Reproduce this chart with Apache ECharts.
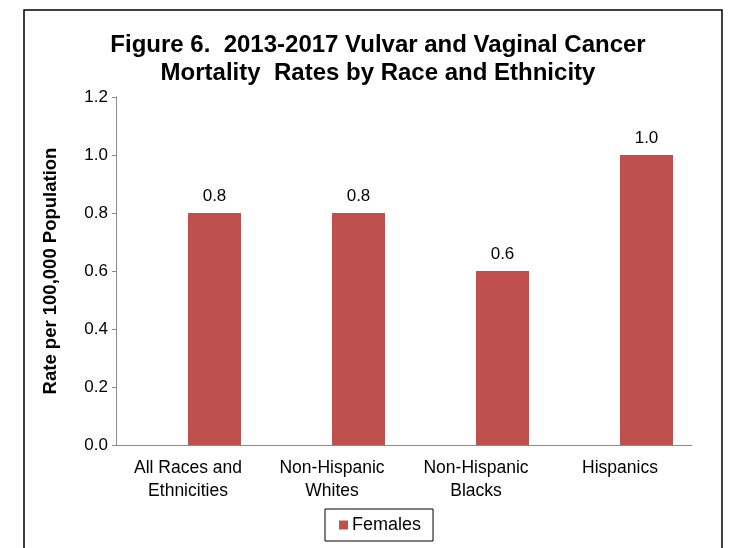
<!DOCTYPE html>
<html>
<head>
<meta charset="utf-8">
<script src="https://cdn.jsdelivr.net/npm/echarts@6/dist/echarts.min.js"></script>
<style>
  html, body { margin: 0; padding: 0; background: #fff; }
  #chart { width: 736px; height: 548px; }
</style>
</head>
<body>
<div id="chart"></div>
<script>
// Mortality rate per 100,000 women, 2013-2017
const categories = ['All Races and\nEthnicities', 'Non-Hispanic\nWhites', 'Non-Hispanic\nBlacks', 'Hispanics'];
const females = [0.8, 0.8, 0.6, 1.0];
// empty companion series keeps the Excel-style two-slot layout (bar sits right of centre)
const placeholder = [null, null, null, null];
const yTicks = { min: 0, max: 1.2, interval: 0.2 };

const FONT = '"Liberation Sans", Arial, sans-serif';
const chart = echarts.init(document.getElementById('chart'), null, { renderer: 'canvas' });

chart.setOption({
  backgroundColor: '#ffffff',
  animation: false,
  graphic: [{
    type: 'rect',
    shape: { x: 24, y: 10, width: 698, height: 560 },
    style: { fill: 'none', stroke: '#000', lineWidth: 1.5 },
    silent: true
  }],
  title: {
    text: 'Figure 6.  2013-2017 Vulvar and Vaginal Cancer\nMortality  Rates by Race and Ethnicity',
    left: 373,
    top: 26,
    textAlign: 'center',
    textStyle: { fontFamily: FONT, fontSize: 24, fontWeight: 'bold', color: '#000', lineHeight: 28 }
  },
  legend: {
    data: ['Females'],
    left: 325,
    top: 509,
    icon: 'rect',
    itemWidth: 9,
    itemHeight: 9,
    itemGap: 4,
    padding: [7, 12, 7, 14],
    borderColor: '#000',
    borderWidth: 1,
    textStyle: { fontFamily: FONT, fontSize: 18, color: '#000', padding: [0, 0, 0, -1] }
  },
  grid: { left: 116, right: 44, top: 97, bottom: 103, containLabel: false },
  xAxis: {
    type: 'category',
    data: categories,
    axisLine: { lineStyle: { color: '#8c8c8c', width: 1 } },
    axisTick: { show: false },
    axisLabel: { fontFamily: FONT, fontSize: 17.5, color: '#000', lineHeight: 23, margin: 12, interval: 0 }
  },
  yAxis: {
    type: 'value',
    min: yTicks.min,
    max: yTicks.max,
    interval: yTicks.interval,
    name: 'Rate per 100,000 Population',
    nameLocation: 'middle',
    nameRotate: 90,
    nameGap: 56,
    nameTextStyle: { fontFamily: FONT, fontSize: 18.5, fontWeight: 'bold', color: '#000' },
    axisLine: { show: true, lineStyle: { color: '#8c8c8c', width: 1 } },
    axisTick: { show: true, length: 4, lineStyle: { color: '#8c8c8c' } },
    splitLine: { show: false },
    axisLabel: {
      fontFamily: FONT, fontSize: 17, color: '#000', margin: 8,
      formatter: v => v.toFixed(1)
    }
  },
  series: [
    {
      name: 'blank',
      type: 'bar',
      data: placeholder,
      barWidth: 53,
      barGap: '0%'
    },
    {
      name: 'Females',
      type: 'bar',
      data: females,
      barWidth: 53,
      barGap: '0%',
      itemStyle: { color: '#c0504d' },
      label: {
        show: true,
        position: 'top',
        distance: 8,
        fontFamily: FONT,
        fontSize: 17,
        color: '#000',
        formatter: p => p.value.toFixed(1)
      }
    }
  ]
});
</script>
</body>
</html>
